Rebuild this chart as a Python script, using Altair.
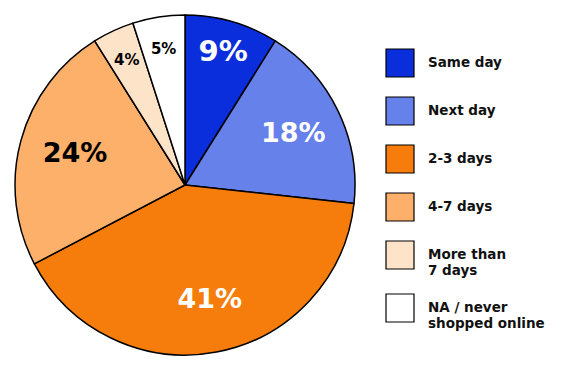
import altair as alt
import pandas as pd

categories = ["Same day", "Next day", "2-3 days", "4-7 days", "More than|7 days", "NA / never|shopped online"]
values = [9, 18, 41, 24, 4, 5]
labels = ["9%", "18%", "41%", "24%", "4%", "5%"]
colors = ["#0a2edb", "#6681ea", "#f67d0b", "#fdb06a", "#fde3c8", "#ffffff"]
label_colors = ["white", "white", "white", "black", "black", "black"]
label_sizes = [29, 27, 27, 27, 15, 15]

df = pd.DataFrame({
    "cat": categories,
    "value": values,
    "label": labels,
    "idx": list(range(len(values))),
    "lcolor": label_colors,
    "lsize": label_sizes,
})

base = alt.Chart(df).encode(
    theta=alt.Theta("value:Q", stack=True),
    order=alt.Order("idx:Q"),
)

pie = base.mark_arc(outerRadius=170, stroke="black", strokeWidth=1.5).encode(
    color=alt.Color(
        "cat:N",
        scale=alt.Scale(domain=categories, range=colors),
        legend=alt.Legend(
            title=None,
            orient="none",
            legendX=370,
            legendY=33,
            symbolType="square",
            symbolSize=784,
            symbolStrokeColor="black",
            symbolStrokeWidth=1.2,
            symbolOpacity=1,
            rowPadding=14,
            labelFont="DejaVu Sans",
            labelFontWeight="bold",
            labelFontSize=13.5,
            labelColor="#111111",
            labelOffset=13,
            labelLimit=200,
            labelExpr="split(datum.label, '|')",
        ),
    )
)

text_enc = dict(
    text="label:N",
    color=alt.Color("lcolor:N", scale=None),
    size=alt.Size("lsize:Q", scale=None),
)

text_outer = base.mark_text(font="DejaVu Sans", fontWeight="bold", align="center",
                            baseline="middle", radius=138).encode(
    opacity=alt.condition("datum.value <= 9", alt.value(1), alt.value(0)), **text_enc)
text_inner = base.mark_text(font="DejaVu Sans", fontWeight="bold", align="center",
                            baseline="middle", radius=117, dx=3).encode(
    opacity=alt.condition("datum.value > 9", alt.value(1), alt.value(0)), **text_enc)

chart = alt.layer(pie, text_outer, text_inner).properties(
    width=340, height=340,
    padding={"left": 12, "top": 12, "right": 5, "bottom": 5},
).configure_view(stroke=None)

chart.save("out.html", embed_options={"renderer": "svg", "actions": False})
